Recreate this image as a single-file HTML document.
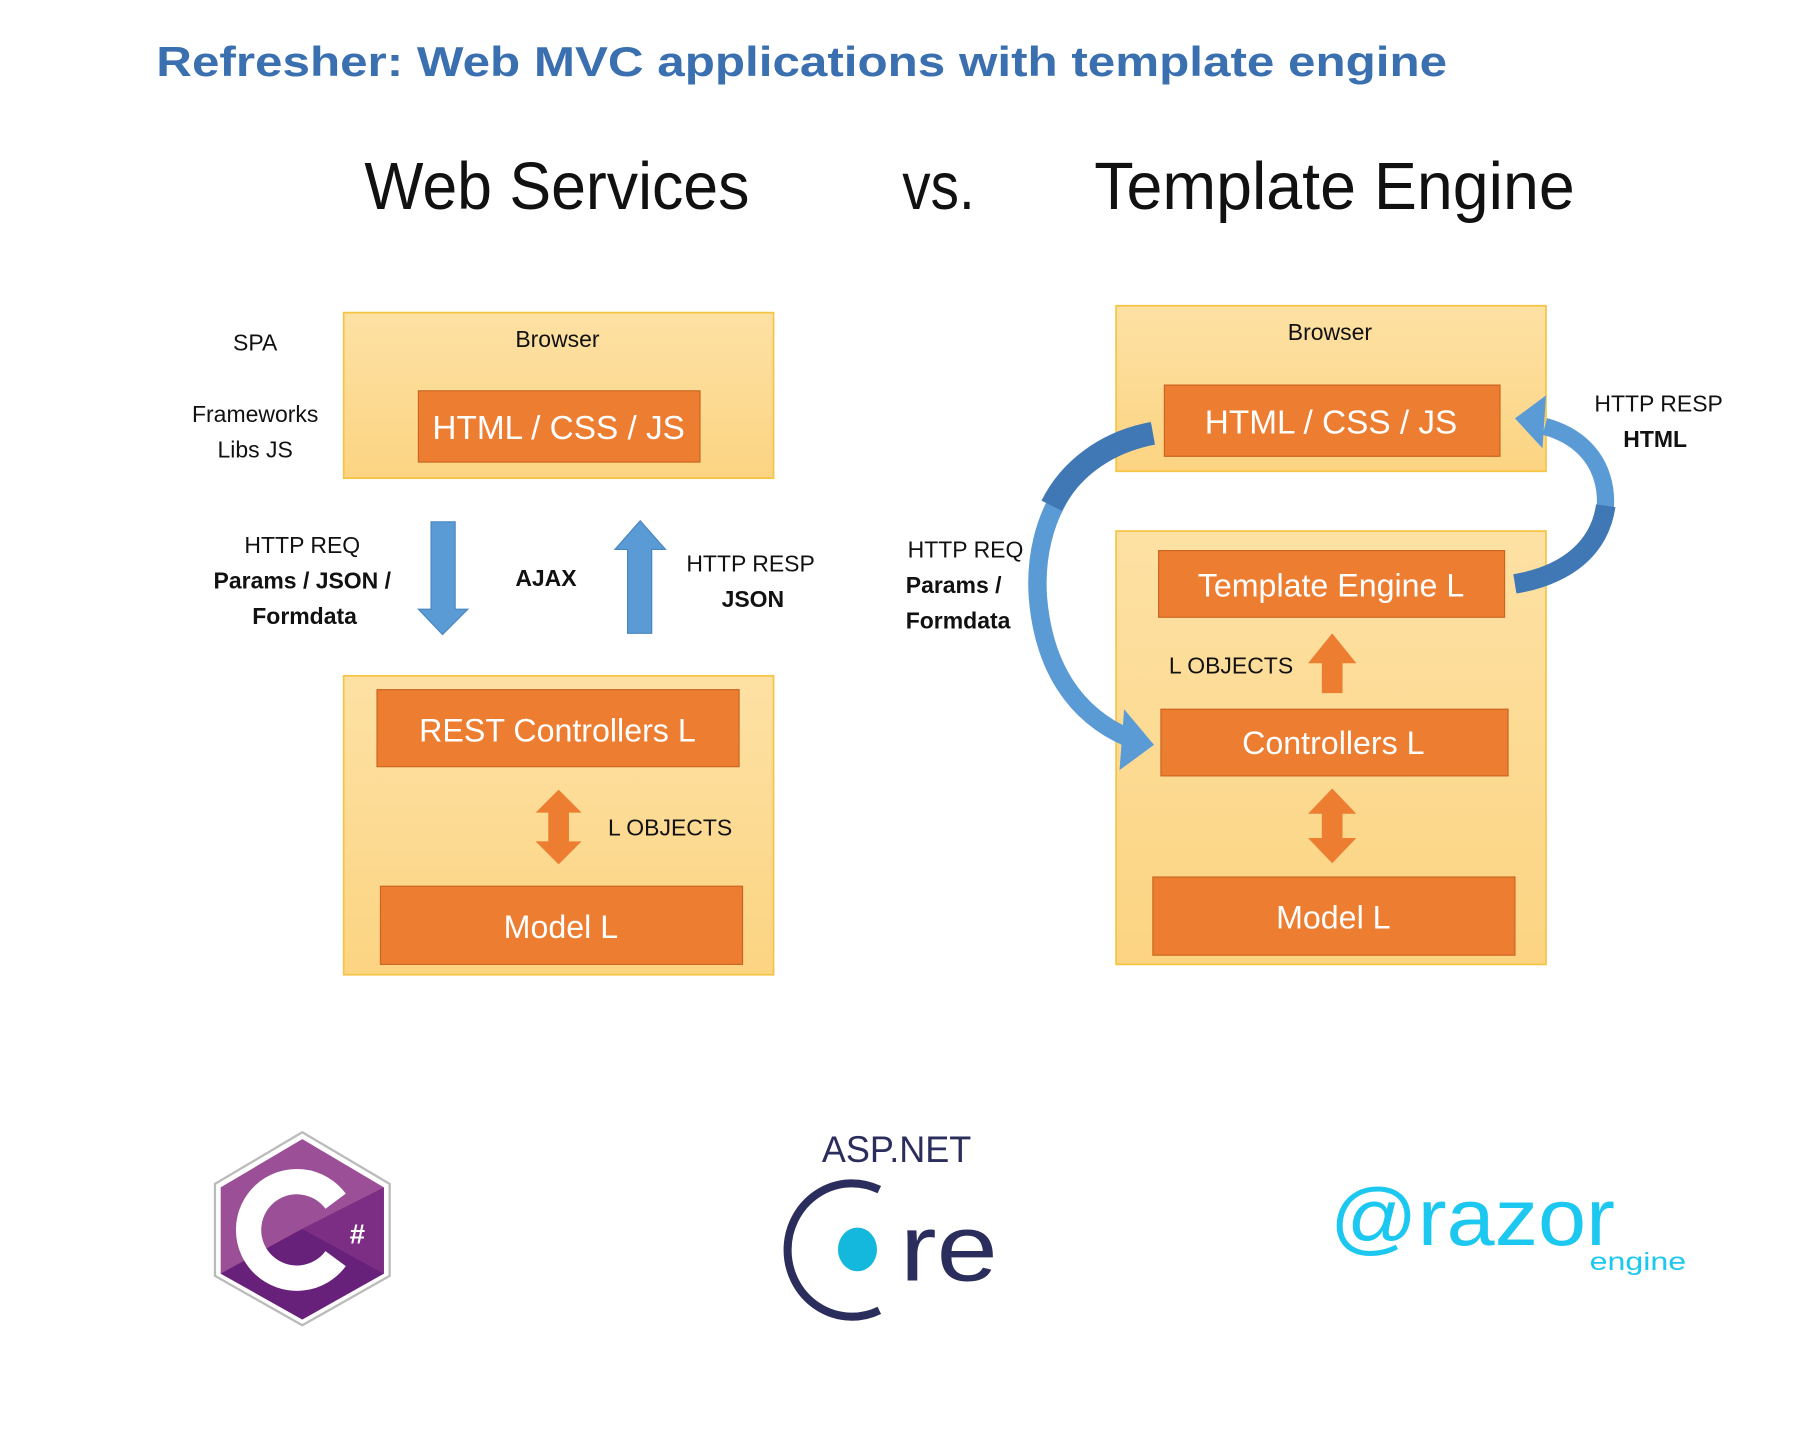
<!DOCTYPE html>
<html><head><meta charset="utf-8"><style>html,body{margin:0;padding:0;background:#fff}svg{display:block}</style></head>
<body>
<svg width="1800" height="1446" viewBox="0 0 1566 1258" preserveAspectRatio="none" xmlns="http://www.w3.org/2000/svg" font-family="Liberation Sans, sans-serif">
<defs>
<linearGradient id="g" x1="0" y1="0" x2="0" y2="1"><stop offset="0" stop-color="#fde1a4"/><stop offset="1" stop-color="#fcd482"/></linearGradient>
</defs>
<text x="136" y="66" font-size="36" font-weight="bold" fill="#3a6fb0" textLength="1123" lengthAdjust="spacingAndGlyphs">Refresher: Web MVC applications with template engine</text>
<text x="317" y="182" font-size="58" fill="#111" textLength="335" lengthAdjust="spacingAndGlyphs">Web Services</text>
<text x="785" y="182" font-size="58" fill="#111" textLength="63" lengthAdjust="spacingAndGlyphs">vs.</text>
<text x="952" y="182" font-size="58" fill="#111" textLength="418" lengthAdjust="spacingAndGlyphs">Template Engine</text>

<g font-size="20" fill="#111">
<rect x="299" y="272" width="374" height="144" fill="url(#g)" stroke="#f6c444" stroke-width="1.5"/>
<text x="485" y="302" text-anchor="middle">Browser</text>
<rect x="364" y="340" width="245" height="62" fill="#ed7d31" stroke="#c9651f"/>
<text x="486" y="382" text-anchor="middle" font-size="29" fill="#fff">HTML / CSS / JS</text>
<text x="222" y="305" text-anchor="middle">SPA</text>
<text x="222" y="367" text-anchor="middle">Frameworks</text>
<text x="222" y="398" text-anchor="middle">Libs JS</text>
<polygon points="375,454 396,454 396,530 407,530 385,552 364,530 375,530" fill="#5b9bd5" stroke="#4a86c0"/>
<polygon points="546,551 567,551 567,478 579,478 557,453 535,478 546,478" fill="#5b9bd5" stroke="#4a86c0"/>
<text x="263" y="481" text-anchor="middle">HTTP REQ</text>
<text x="263" y="512" text-anchor="middle" font-weight="bold">Params / JSON /</text>
<text x="265" y="543" text-anchor="middle" font-weight="bold">Formdata</text>
<text x="475" y="510" text-anchor="middle" font-weight="bold">AJAX</text>
<text x="653" y="497" text-anchor="middle">HTTP RESP</text>
<text x="655" y="528" text-anchor="middle" font-weight="bold">JSON</text>
<rect x="299" y="588" width="374" height="260" fill="url(#g)" stroke="#f6c444" stroke-width="1.5"/>
<rect x="328" y="600" width="315" height="67" fill="#ed7d31" stroke="#c9651f"/>
<text x="485" y="645" text-anchor="middle" font-size="28" fill="#fff">REST Controllers L</text>
<polygon points="486,687 506,707 495,707 495,732 506,732 486,752 466,732 477,732 477,707 466,707" fill="#ed7d31"/>
<text x="583" y="727" text-anchor="middle">L OBJECTS</text>
<rect x="331" y="771" width="315" height="68" fill="#ed7d31" stroke="#c9651f"/>
<text x="488" y="816" text-anchor="middle" font-size="28" fill="#fff">Model L</text>

<rect x="971" y="266" width="374" height="144" fill="url(#g)" stroke="#f6c444" stroke-width="1.5"/>
<text x="1157" y="296" text-anchor="middle">Browser</text>
<rect x="1013" y="335" width="292" height="62" fill="#ed7d31" stroke="#c9651f"/>
<text x="1158" y="377" text-anchor="middle" font-size="29" fill="#fff">HTML / CSS / JS</text>
<rect x="971" y="462" width="374" height="377" fill="url(#g)" stroke="#f6c444" stroke-width="1.5"/>
<rect x="1008" y="479" width="301" height="58" fill="#ed7d31" stroke="#c9651f"/>
<text x="1158" y="519" text-anchor="middle" font-size="28" fill="#fff">Template Engine L</text>
<polygon points="1150,603 1168,603 1168,577 1180,577 1159,551 1138,577 1150,577" fill="#ed7d31"/>
<text x="1071" y="586" text-anchor="middle">L OBJECTS</text>
<rect x="1010" y="617" width="302" height="58" fill="#ed7d31" stroke="#c9651f"/>
<text x="1160" y="656" text-anchor="middle" font-size="28" fill="#fff">Controllers L</text>
<polygon points="1159,686 1180,708 1168,708 1168,729 1180,729 1159,751 1138,729 1150,729 1150,708 1138,708" fill="#ed7d31"/>
<rect x="1003" y="763" width="315" height="68" fill="#ed7d31" stroke="#c9651f"/>
<text x="1160" y="808" text-anchor="middle" font-size="28" fill="#fff">Model L</text>

<text x="840" y="485" text-anchor="middle">HTTP REQ</text>
<text x="788" y="516" font-weight="bold">Params /</text>
<text x="788" y="547" font-weight="bold">Formdata</text>
<text x="1443" y="358" text-anchor="middle">HTTP RESP</text>
<text x="1440" y="389" text-anchor="middle" font-weight="bold">HTML</text>
</g>

<!-- left curved arrow -->
<path d="M1003,377 C935,388 898,450 903,520 C908,580 935,622 982,642" fill="none" stroke="#5b9bd5" stroke-width="16"/>
<path d="M1003,377 C960,385 930,410 915,440" fill="none" stroke="#3f78b4" stroke-width="20"/>
<polygon points="1004,648 978,617 974,670" fill="#5b9bd5"/>
<!-- right curved arrow -->
<path d="M1318,508 C1375,500 1402,465 1396,425 C1391,395 1370,378 1344,371" fill="none" stroke="#5b9bd5" stroke-width="15"/>
<path d="M1318,508 C1365,500 1392,475 1397,440" fill="none" stroke="#3f78b4" stroke-width="17"/>
<polygon points="1318,364 1345,344 1342,390" fill="#5b9bd5"/>

<!-- C# logo -->
<polygon points="263,985 339,1030 339,1110 263,1153 187,1110 187,1030" fill="#fff" stroke="#bbb" stroke-width="2"/>
<polygon points="263,991 334,1033 334,1108 263,1148 192,1108 192,1033" fill="#9b4f96"/>
<polygon points="263,1069 334,1108 263,1148 192,1108" fill="#68217a"/>
<polygon points="263,1069 334,1033 334,1108" fill="#7b2e84"/>
<path d="M292,1045 A42,42 0 1 0 292,1095" fill="none" stroke="#fff" stroke-width="22"/>
<text x="311" y="1082" text-anchor="middle" font-size="24" font-weight="bold" fill="#fff">#</text>

<!-- ASP.NET Core -->
<text x="780" y="1011" text-anchor="middle" font-size="32" fill="#2b2d5c" textLength="130" lengthAdjust="spacingAndGlyphs">ASP.NET</text>
<path d="M765,1035 A56,58 0 1 0 765,1140" fill="none" stroke="#2b2d5c" stroke-width="7"/>
<ellipse cx="746" cy="1087" rx="17" ry="19" fill="#14b8dc"/>
<text x="783" y="1114" font-size="82" fill="#2b2d5c" textLength="85" lengthAdjust="spacingAndGlyphs">re</text>

<!-- razor -->
<text x="1157" y="1083" font-size="70" fill="#1cc8f0" textLength="248" lengthAdjust="spacingAndGlyphs">@razor</text>
<text x="1383" y="1105" font-size="22" fill="#1cc8f0" textLength="84" lengthAdjust="spacingAndGlyphs">engine</text>
</svg>
</body></html>
